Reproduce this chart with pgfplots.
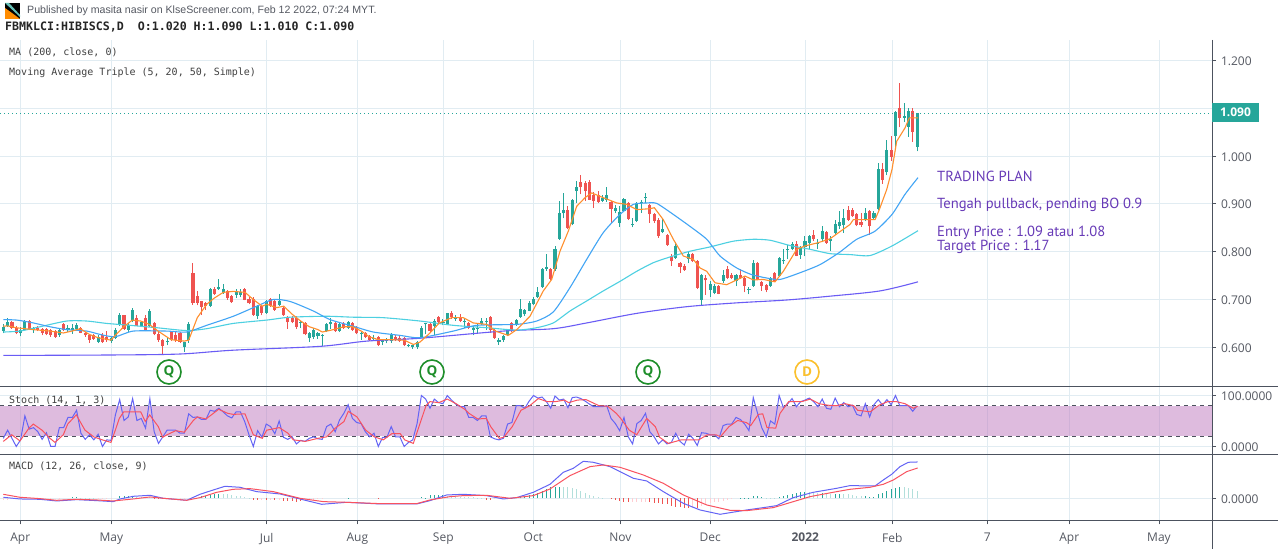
\documentclass[border=0pt]{standalone}
\usepackage{fontspec}
\usepackage{pgfplots}
\usepackage{pgfplotstable}
\pgfplotsset{compat=1.18}
\setmainfont{Open Sans}
\newfontfamily\monof{DejaVu Sans Mono}
\newfontfamily\planf{PT Sans}
\newfontfamily\pubf{Liberation Sans}
\definecolor{upc}{HTML}{26A69A}
\definecolor{dnc}{HTML}{EF5350}
\definecolor{uplt}{HTML}{B2DFDB}
\definecolor{dnlt}{HTML}{FFCDD2}
\definecolor{gridc}{HTML}{E1ECF2}
\definecolor{axc}{HTML}{4C525E}
\definecolor{txtc}{HTML}{555962}
\definecolor{maP}{HTML}{6A5CF5}
\definecolor{maC}{HTML}{4DD0E1}
\definecolor{maB}{HTML}{42A5F5}
\definecolor{maO}{HTML}{FF8F2E}
\definecolor{osB}{HTML}{6464F5}
\definecolor{osR}{HTML}{F9525F}
\definecolor{bandc}{HTML}{BE78BE}
\definecolor{planc}{HTML}{673AB7}
\definecolor{qc}{HTML}{1E8E2A}
\definecolor{dc}{HTML}{FBC02D}
\pgfplotstableread{
i o h l c
1 .634 .648 .629 .643
2 .644 .662 .643 .652
5 .629 .643 .623 .637
6 .636 .657 .636 .655
8 .636 .642 .630 .641
14 .626 .639 .622 .637
16 .637 .647 .632 .641
17 .636 .648 .628 .641
18 .638 .651 .635 .647
23 .612 .625 .609 .621
26 .613 .622 .610 .619
27 .620 .640 .618 .637
28 .649 .671 .645 .667
30 .637 .650 .632 .647
31 .655 .683 .652 .679
33 .645 .655 .642 .652
35 .645 .681 .643 .677
39 .612 .622 .604 .614
43 .600 .612 .590 .611
44 .615 .652 .610 .648
49 .686 .724 .684 .721
51 .722 .742 .720 .726
52 .714 .733 .712 .721
55 .710 .722 .703 .717
56 .710 .721 .705 .715
60 .665 .688 .660 .687
62 .672 .698 .670 .696
65 .689 .712 .687 .696
70 .650 .655 .640 .652
72 .620 .632 .611 .630
73 .622 .640 .618 .637
74 .623 .632 .618 .630
75 .624 .628 .603 .626
76 .634 .650 .632 .648
77 .648 .662 .638 .653
79 .634 .650 .632 .648
81 .641 .656 .639 .653
84 .629 .632 .615 .630
87 .617 .625 .613 .619
89 .611 .618 .604 .616
90 .613 .620 .608 .618
91 .613 .629 .610 .627
95 .602 .606 .600 .605
96 .601 .605 .596 .604
97 .601 .613 .596 .611
98 .620 .645 .620 .641
99 .648 .651 .627 .650
101 .644 .660 .625 .655
103 .652 .660 .646 .653
104 .648 .672 .646 .671
106 .660 .668 .655 .662
108 .654 .661 .640 .656
110 .637 .644 .625 .641
111 .639 .648 .630 .641
112 .649 .662 .647 .656
113 .654 .661 .637 .656
116 .611 .620 .605 .616
117 .615 .625 .612 .623
118 .625 .638 .623 .636
120 .646 .659 .645 .657
121 .664 .702 .662 .681
122 .669 .680 .665 .678
123 .676 .696 .675 .692
124 .690 .705 .688 .702
125 .705 .727 .703 .716
126 .726 .766 .724 .763
127 .764 .796 .760 .768
129 .764 .812 .760 .806
130 .827 .907 .825 .881
131 .880 .922 .870 .887
133 .857 .911 .855 .908
134 .927 .948 .902 .936
140 .907 .918 .904 .913
141 .909 .935 .905 .918
143 .885 .898 .880 .892
144 .861 .895 .852 .883
145 .885 .913 .883 .911
147 .856 .870 .851 .859
148 .865 .904 .862 .902
149 .902 .909 .882 .904
150 .913 .922 .902 .915
154 .841 .870 .839 .848
157 .787 .820 .785 .813
160 .785 .802 .776 .796
163 .700 .754 .686 .752
165 .720 .738 .706 .732
166 .714 .733 .711 .728
168 .739 .762 .735 .752
171 .739 .753 .728 .751
174 .720 .727 .711 .721
175 .729 .783 .727 .777
179 .729 .747 .727 .745
181 .750 .789 .748 .787
182 .780 .805 .775 .782
183 .803 .815 .784 .805
184 .805 .820 .803 .817
186 .794 .812 .785 .810
187 .810 .832 .790 .822
188 .819 .835 .805 .833
190 .817 .826 .806 .818
191 .826 .853 .820 .843
193 .822 .832 .801 .826
194 .840 .867 .835 .857
195 .854 .886 .848 .862
196 .856 .889 .840 .871
201 .866 .892 .864 .881
203 .870 .885 .868 .880
204 .890 .986 .888 .972
206 .966 1.033 .960 1.012
208 1.042 1.095 1.020 1.093
210 1.080 1.111 1.071 1.084
211 1.061 1.101 1.040 1.094
213 1.020 1.090 1.010 1.090
}\upT
\pgfplotstableread{
i o h l c
3 .652 .655 .638 .640
4 .641 .645 .627 .630
7 .655 .657 .636 .638
9 .641 .645 .634 .637
10 .638 .641 .625 .630
11 .638 .641 .625 .627
12 .636 .639 .622 .625
13 .634 .636 .620 .622
15 .648 .650 .634 .636
19 .641 .643 .629 .630
20 .630 .632 .622 .625
21 .626 .628 .610 .616
22 .625 .627 .616 .618
24 .625 .630 .610 .611
25 .621 .635 .612 .615
29 .667 .668 .636 .638
32 .662 .667 .645 .645
34 .662 .667 .634 .635
36 .650 .654 .625 .627
37 .628 .632 .612 .615
38 .615 .617 .585 .602
40 .632 .635 .613 .615
41 .625 .632 .612 .615
42 .629 .632 .609 .611
45 .756 .777 .689 .693
46 .707 .717 .688 .693
47 .696 .697 .668 .685
48 .693 .695 .678 .686
50 .721 .727 .710 .712
53 .717 .720 .700 .703
54 .707 .710 .693 .694
57 .721 .724 .698 .700
58 .702 .706 .690 .692
59 .701 .705 .666 .668
61 .687 .688 .667 .672
63 .701 .703 .685 .687
64 .696 .698 .677 .679
66 .682 .684 .665 .667
67 .664 .666 .639 .652
68 .662 .665 .650 .652
69 .662 .665 .638 .643
71 .651 .653 .625 .627
78 .651 .653 .632 .634
80 .648 .652 .639 .641
82 .651 .653 .635 .637
83 .643 .645 .627 .629
85 .629 .632 .620 .622
86 .623 .625 .613 .615
88 .622 .624 .602 .604
92 .622 .625 .613 .615
93 .620 .623 .611 .613
94 .620 .622 .602 .604
100 .648 .651 .630 .634
102 .663 .666 .651 .653
105 .671 .677 .660 .664
107 .663 .670 .652 .655
109 .651 .653 .639 .641
114 .663 .665 .630 .636
115 .637 .639 .618 .620
119 .650 .652 .632 .634
128 .763 .765 .741 .743
132 .888 .895 .847 .850
135 .946 .961 .920 .935
136 .943 .947 .906 .927
137 .946 .951 .908 .909
138 .918 .925 .891 .906
139 .918 .926 .902 .904
142 .904 .907 .860 .890
146 .902 .904 .866 .869
151 .897 .899 .861 .878
152 .878 .880 .860 .864
153 .867 .870 .829 .833
155 .836 .838 .812 .815
156 .791 .795 .770 .780
158 .777 .779 .755 .769
159 .771 .775 .760 .761
161 .796 .798 .778 .780
162 .780 .782 .722 .725
164 .745 .752 .710 .740
167 .728 .730 .711 .712
169 .763 .770 .742 .745
170 .752 .755 .742 .744
172 .752 .763 .743 .745
173 .745 .748 .715 .729
176 .777 .779 .740 .742
177 .737 .739 .718 .728
178 .731 .733 .715 .719
180 .756 .758 .736 .738
185 .817 .822 .790 .792
189 .836 .845 .822 .826
192 .842 .844 .817 .819
197 .887 .895 .865 .867
198 .887 .891 .873 .875
199 .878 .880 .853 .855
200 .862 .880 .852 .855
202 .885 .887 .835 .853
205 .972 .986 .942 .951
207 1.012 1.043 .990 .999
209 1.101 1.152 1.060 1.080
212 1.094 1.101 1.030 1.050
}\dnT
\pgfplotstableread{
v
16
32
16
0
13
60
34
37
29
14
27
0
0
37
37
57
57
71
26
14
23
13
24
0
13
12
62
92
51
58
94
51
55
36
94
29
6
19
32
32
32
26
26
64
57
58
53
53
71
69
75
68
60
56
68
68
49
23
0
31
18
44
39
25
50
18
14
19
5
12
10
16
19
15
14
39
44
29
52
65
82
55
47
45
29
19
26
0
18
18
39
19
19
0
8
13
45
100
93
75
93
86
84
100
91
83
78
78
57
57
51
60
60
19
15
13
16
44
47
80
80
75
89
100
95
97
88
75
99
91
93
76
96
97
94
89
83
78
78
78
80
55
45
31
57
19
5
45
51
65
29
19
5
13
5
8
26
10
3
24
16
2
27
26
23
23
15
41
44
44
57
53
44
31
96
65
36
19
50
44
100
76
84
94
78
88
91
95
88
78
93
75
73
95
78
86
78
81
63
60
84
58
82
92
81
92
82
100
80
80
80
69
80
}\stochK
\pgfplotstableread{
i v
17 .0015
18 .0015
28 .003
29 .0035
30 .0035
31 .0035
47 .003
48 .004
49 .0055
50 .006
51 .0065
81 .001
98 .0015
99 .001
100 .005
101 .005
102 .005
103 .005
119 .001
120 .002
121 .003
122 .004
123 .005
124 .006
125 .008
126 .011
127 .014
128 .0165
129 .0175
130 .0175
172 .0005
173 .0005
174 .0005
175 .003
176 .003
177 .002
181 .002
182 .003
183 .005
184 .006
185 .008
186 .009
187 .0095
191 .008
194 .007
195 .007
201 .004
202 .002
203 .0025
204 .006
205 .0085
206 .0115
207 .0135
208 .016
209 .0175
}\hUp
\pgfplotstableread{
i v
19 .001
20 .001
21 .001
22 .0005
32 .002
33 .002
34 .002
35 .0015
52 .0065
53 .006
54 .005
55 .004
56 .003
57 .002
58 .001
104 .003
105 .003
106 .003
107 .002
108 .002
109 .002
110 .002
111 .001
112 .001
131 .0165
132 .0165
133 .015
134 .014
135 .011
136 .008
137 .005
138 .003
139 .002
140 .001
178 .001
179 .001
180 .001
188 .009
189 .008
190 .008
192 .007
193 .007
196 .007
197 .007
198 .0055
199 .004
200 .003
210 .0175
211 .016
212 .014
213 .0115
}\hUpL
\pgfplotstableread{
i v
36 -.001
37 -.001
38 -.001
39 -.001
59 -.002
60 -.0025
62 -.0025
64 -.0025
66 -.004
67 -.004
68 -.0045
69 -.005
70 -.004
88 -.001
113 -.002
114 -.002
142 -.001
143 -.002
144 -.004
145 -.005
146 -.006
151 -.006
152 -.007
153 -.0075
154 -.008
155 -.009
156 -.0115
157 -.013
158 -.0135
159 -.014
160 -.0145
162 -.014
}\hDn
\pgfplotstableread{
i v
1 -.002
2 -.002
3 -.0015
4 -.001
5 -.001
6 -.001
8 -.001
10 -.001
12 -.001
14 -.001
23 -.001
24 -.001
25 -.001
26 -.001
40 -.001
41 -.001
42 -.001
43 -.001
61 -.002
63 -.002
65 -.0025
71 -.003
72 -.002
73 -.002
74 -.001
75 -.001
115 -.001
116 -.001
117 -.001
118 -.001
147 -.006
148 -.0055
149 -.0055
150 -.005
161 -.014
163 -.0115
164 -.009
165 -.0075
166 -.006
167 -.005
168 -.0035
169 -.002
170 -.001
}\hDnL
\newcommand{\tickf}{\fontsize{12}{14}\selectfont}
\pgfplotsset{
  pane/.style={scale only axis,width=1212pt,xmin=0,xmax=1212,
    axis line style={draw=none},
    scaled y ticks=false,scaled x ticks=false,
    xtick={20.3,111.3,266.7,357.3,443.3,533.3,620.3,710.3,805.3,892.3,987.3,1069.3,1159},
    grid=major,grid style={gridc,line width=1pt},
    ytick pos=right,yticklabel pos=right,tick align=outside,
    major tick length=4pt,
    tick style={color=axc,line width=1pt},
    yticklabel style={font=\tickf,text=txtc,anchor=west,xshift=1.5pt,yshift=-0.7pt},
    xticklabel style={font=\tickf,text=txtc},
  },
  noxt/.style={xticklabels={},x tick style={draw=none}},
  wick/.style={draw=none,forget plot,error bars/.cd,y dir=plus,y explicit,error mark=none,
    error bar style={draw=#1,solid,line width=1pt}},
  body/.style={draw=none,forget plot,error bars/.cd,y dir=plus,y explicit,error mark=none,
    error bar style={draw=#1,solid,line width=3.1pt}},
  hist/.style={ycomb,#1,line width=1pt,forget plot,no markers},
}
\begin{document}
\begin{tikzpicture}[x=1pt,y=1pt]
\useasboundingbox (0,0) rectangle (1278,549);
\fill[white] (0,0) rectangle (1278,549);
% main pane
\begin{axis}[pane,noxt,at={(0pt,162pt)},anchor=south west,height=347pt,ymin=0.517,ymax=1.2429,
  ytick={0.6,0.7,0.8,0.9,1.0,1.1,1.2},
  yticklabels={0.600,0.700,0.800,0.900,1.000,,1.200}]
\addplot[wick=dnc] table[x expr={3.33+4.31*(\thisrow{i}-1)},y=l,y error expr={\thisrow{h}-\thisrow{l}}] {\dnT};
\addplot[body=dnc] table[x expr={3.33+4.31*(\thisrow{i}-1)},y=c,y error expr={\thisrow{o}-\thisrow{c}}] {\dnT};
\addplot[wick=upc] table[x expr={3.33+4.31*(\thisrow{i}-1)},y=l,y error expr={\thisrow{h}-\thisrow{l}}] {\upT};
\addplot[body=upc] table[x expr={3.33+4.31*(\thisrow{i}-1)},y=o,y error expr={\thisrow{c}-\thisrow{o}}] {\upT};
\addplot[maP,line width=1.1pt,smooth,forget plot] coordinates {(3.3,.583)(113.3,.584)(180,.586)(233.3,.594)(320,.602)(366.7,.613)(420,.619)(503.3,.634)(553.3,.639)(586.7,.651)(636.7,.671)(686.7,.685)(736.7,.693)(786.7,.699)(830,.707)(880,.718)(918,.737)};
\addplot[maC,line width=1.1pt,smooth,tension=.4,forget plot] coordinates {(3.3,.632)(20,.634)(40,.643)(66.7,.655)(86.7,.655)(106.7,.650)(130,.646)(156.7,.641)(186.7,.635)(206.7,.639)(233.3,.650)(266.7,.657)(290,.663)(326.7,.665)(353.3,.663)(383.3,.662)(420,.655)(453.3,.646)(486.7,.641)(516.7,.636)(536.7,.641)(553.3,.651)(570,.676)(586.7,.697)(603.3,.718)(620,.738)(636.7,.759)(653.3,.777)(670,.789)(690,.801)(710,.810)(733.3,.822)(753.3,.826)(770,.824)(790,.813)(810,.805)(830,.796)(850,.794)(870,.792)(892,.812)(918,.844)};
\addplot[maB,line width=1.1pt,smooth,tension=.4,forget plot] coordinates {(3.3,.658)(16.7,.657)(33.3,.651)(50,.643)(66.7,.637)(86.7,.634)(100,.627)(115,.622)(133.3,.634)(166.7,.634)(186.7,.632)(206.7,.646)(233.3,.665)(256.7,.686)(273.3,.700)(290,.696)(313.3,.676)(330,.658)(353.3,.644)(373.3,.632)(400,.625)(420,.620)(453.3,.634)(476.7,.646)(516.7,.648)(536.7,.655)(553.3,.674)(570,.725)(586.7,.784)(603.3,.840)(620,.878)(633.3,.899)(646.7,.902)(656.7,.901)(673.3,.878)(690,.853)(706.7,.826)(720,.791)(736.7,.766)(751.7,.752)(766.7,.745)(780,.742)(800,.756)(820,.773)(839,.798)(856.7,.826)(875,.843)(892,.878)(905,.920)(918,.955)};
\addplot[maO,line width=1.1pt,forget plot] coordinates {(3.3,.644)(7.3,.645)(16,.641)(33.3,.637)(50,.634)(63.3,.630)(72,.634)(80.3,.639)(89.3,.627)(98.3,.620)(111,.615)(115.3,.625)(123.7,.643)(132.3,.657)(140.7,.655)(149.3,.648)(158,.634)(166.7,.622)(171,.616)(184.3,.613)(188.7,.615)(197.3,.662)(206.7,.690)(214.3,.703)(223.3,.715)(233.3,.717)(245,.715)(253.3,.700)(262.3,.686)(266.7,.690)(276.7,.683)(283.7,.686)(292.3,.669)(300.7,.655)(309.3,.643)(318,.637)(322.3,.632)(331.3,.636)(344,.643)(352.7,.643)(361.3,.634)(369.3,.622)(378.3,.616)(391,.616)(404.3,.615)(413.3,.606)(420,.611)(430,.630)(439.3,.651)(451.7,.662)(463.3,.662)(473.3,.651)(486.7,.648)(495.3,.634)(508.3,.625)(516.7,.637)(530,.665)(543.3,.718)(551.7,.742)(560,.801)(568.3,.843)(576.7,.895)(585,.913)(591.7,.923)(603.3,.913)(616.7,.902)(626.7,.899)(636.7,.888)(650,.890)(654.3,.892)(663.3,.867)(673.3,.826)(683.3,.791)(693.3,.784)(700,.766)(706.7,.759)(715,.735)(726.7,.731)(736.7,.741)(745,.749)(753.3,.741)(763.3,.742)(775,.737)(783.3,.759)(796.7,.805)(805,.812)(818.3,.819)(830,.827)(843.3,.847)(850,.857)(853.3,.867)(875,.867)(879.3,.888)(886.7,.930)(892,.972)(896.7,1.031)(905,1.059)(909.3,1.080)(918,1.080)};
\addplot[upc,line width=1pt,dash pattern=on 1.3pt off 2.7pt,forget plot] coordinates {(0,1.09)(1212,1.09)};
\end{axis}
% stochastic pane
\begin{axis}[pane,noxt,at={(0pt,94pt)},anchor=south west,height=68pt,ymin=-16.7,ymax=116.7,
  ytick={0,100},yticklabels={0.0000,100.0000}]
\addplot[draw=none,fill=bandc,fill opacity=.5,forget plot] coordinates {(0,20)(1212,20)(1212,80)(0,80)} --cycle;
\addplot[axc,line width=1pt,dash pattern=on 4pt off 4pt,forget plot] coordinates {(0,80)(1212,80)};
\addplot[axc,line width=1pt,dash pattern=on 4pt off 4pt,forget plot] coordinates {(0,20)(1212,20)};
\addplot[osB,line width=1pt,forget plot] table[x expr={3.33+4.31*\coordindex},y=v] {\stochK};
\addplot[osR,line width=1pt,forget plot] coordinates {(3.3,10)(11.7,23)(20,11)(29,36)(33.3,44)(42,32)(50,16)(55,8)(63.3,23)(67.7,44)(76.3,62)(85,32)(93.7,19)(102.3,13)(111,8)(115.3,32)(119.3,55)(123.7,68)(140.7,68)(145.3,49)(149.7,62)(158.3,39)(162.7,18)(167,23)(175.7,31)(184.3,28)(193.3,51)(197.3,58)(206,54)(218.7,73)(227.7,65)(233.3,63)(245,64)(253.3,23)(262.3,16)(266.7,32)(279.3,37)(288,26)(293.3,13)(305.3,10)(318,16)(326.7,19)(335.3,36)(344,49)(348.3,69)(357,58)(365.7,32)(374.3,19)(383.3,13)(391.7,25)(400.3,25)(404.7,13)(413.3,6)(421.7,55)(426,80)(430,88)(438.7,86)(447.3,93)(456,84)(464.7,73)(469,65)(477.7,54)(486.3,55)(490.7,39)(499.3,16)(503.7,18)(512.3,39)(521,71)(529.7,80)(538.3,94)(547,88)(555.7,88)(564.3,91)(568.7,86)(577.3,91)(586,92)(599,80)(607.7,79)(616.3,65)(620.7,55)(629.3,32)(636.7,23)(646.7,55)(655.3,39)(659.7,18)(668.3,6)(681.3,13)(698.7,13)(707.3,23)(716,23)(720.3,19)(729,39)(737.7,51)(746.3,47)(750.7,41)(758.3,63)(762.7,64)(767,37)(775.7,36)(780,65)(788.7,88)(801.7,88)(810.3,93)(819,84)(827.7,81)(836.3,80)(845,84)(853.7,80)(857.7,71)(870.3,68)(879,81)(887.7,88)(896.3,88)(905,84)(913.3,75)(917.7,79)};
\end{axis}
% MACD pane
\begin{axis}[pane,at={(0pt,28.5pt)},anchor=south west,height=65.5pt,ymin=-0.0333,ymax=0.06495,
  ytick={0},yticklabels={0.0000},
  xtick pos=bottom,
  xticklabels={Apr,May,Jul,Aug,Sep,Oct,Nov,Dec,\textbf{2022},Feb,7,Apr,May},
  xticklabel style={yshift=-5pt}]
\addplot[hist=uplt] table[x expr={3.33+4.31*(\thisrow{i}-1)},y=v] {\hUpL};
\addplot[hist=upc] table[x expr={3.33+4.31*(\thisrow{i}-1)},y=v] {\hUp};
\addplot[hist=dnlt] table[x expr={3.33+4.31*(\thisrow{i}-1)},y=v] {\hDnL};
\addplot[hist=dnc] table[x expr={3.33+4.31*(\thisrow{i}-1)},y=v] {\hDn};
\addplot[osB,line width=1pt,forget plot] coordinates {(3.3,.0015)(20,-.001)(40,-.0015)(56.7,-.004)(76.7,-.002)(96.7,-.0035)(113.3,-.005)(120,-.001)(133.3,.003)(150,.0045)(163.3,0)(186.7,-.003)(200,.006)(213.3,.0125)(225,.018)(240,.0165)(256.7,.01)(280,.0065)(300,-.001)(321.7,-.009)(346.7,-.006)(380,-.0085)(416.7,-.0085)(430,-.0035)(446.7,.005)(463.3,.006)(486.7,.004)(503.3,-.001)(516.7,.001)(533.3,.009)(550,.021)(563.3,.039)(573.3,.045)(583.3,.0555)(593.3,.054)(610,.0475)(633.3,.03)(646.7,.026)(663.3,.01)(683.3,-.0075)(700,-.0175)(720,-.024)(746.7,-.0175)(763.3,-.014)(776.7,-.011)(793.3,.001)(813.3,.009)(836.7,.015)(850,.019)(875,.0185)(883.3,.0275)(891.7,.036)(900,.0475)(908.3,.054)(917.7,.0545)};
\addplot[osR,line width=1pt,forget plot] coordinates {(3.3,.006)(20,.0015)(40,-.0005)(56.7,-.003)(76.7,-.0015)(96.7,-.0025)(113.3,-.004)(133.3,-.001)(150,.002)(163.3,0)(186.7,-.003)(200,.001)(216.7,.009)(233.3,.0135)(250,.0145)(273.3,.01)(300,0)(323.3,-.005)(346.7,-.006)(380,-.008)(416.7,-.008)(430,-.0025)(450,.0025)(463.3,.004)(486.7,.0045)(510,0)(533.3,.004)(550,.014)(570,.034)(590,.0475)(603.3,.05)(620,.0465)(643.3,.035)(663.3,.0225)(683.3,.005)(706.7,-.01)(730,-.018)(746.7,-.0185)(773.3,-.014)(790,-.0065)(810,.0025)(836.7,.01)(850,.0135)(870,.0165)(883.3,.021)(893.3,.0275)(906.7,.04)(917.7,.0455)};
\end{axis}
% pixel-coordinate furniture and annotations
\begin{scope}[x=1pt,y=-1pt,yshift=549pt]
\draw[axc,line width=1pt] (0,387)--(1278,387);
\draw[axc,line width=1pt] (0,455)--(1278,455);
\draw[axc,line width=1pt] (0,520.5)--(1278,520.5);
\draw[axc,line width=1pt] (1212,40)--(1212,549);
\node[fill=upc,text=white,minimum width=47pt,minimum height=19pt,inner sep=0pt,font=\fontsize{12}{14}\selectfont\bfseries] at (1235.5,112.5) {1.090};
% icon
\fill[black] (5,3) rectangle (20,19);
\fill[orange!90!yellow] (5,19)--(5,8)--(12,13)--(20,19)--cycle;
\fill[upc!70] (5,3)--(9,3)--(20,15)--(20,17)--cycle;
\node[anchor=west,inner sep=0pt,text=txtc,font=\pubf\fontsize{10.6}{13}\selectfont] at (27,11) {Published by masita nasir on KlseScreener.com, Feb 12 2022, 07:24 MYT.};
\node[anchor=west,inner sep=0pt,text=black!85,font=\monof\fontsize{11.6}{13}\selectfont\bfseries] at (5,27.5) {FBMKLCI:HIBISCS,D\ \ O:1.020 H:1.090 L:1.010 C:1.090};
\node[anchor=west,inner sep=0pt,text=black!75,font=\monof\fontsize{10}{12}\selectfont] at (9,52.5) {MA (200, close, 0)};
\node[anchor=west,inner sep=0pt,text=black!75,font=\monof\fontsize{10}{12}\selectfont] at (9,72.5) {Moving Average Triple (5, 20, 50, Simple)};
\node[anchor=west,inner sep=0pt,text=black!75,font=\monof\fontsize{10}{12}\selectfont] at (9,400) {Stoch (14, 1, 3)};
\node[anchor=west,inner sep=0pt,text=black!75,font=\monof\fontsize{10}{12}\selectfont] at (9,466) {MACD (12, 26, close, 9)};
\foreach \px/\ly in {169/372,432/372,648/372}{
  \node[circle,draw=qc,line width=1.6pt,minimum size=24pt,inner sep=0pt,text=qc,font=\fontsize{13.5}{14}\selectfont\bfseries] at (\px,\ly) {Q};
}
\node[circle,draw=dc,line width=1.6pt,minimum size=24pt,inner sep=0pt,text=dc,font=\fontsize{13.5}{14}\selectfont\bfseries] at (807,372) {D};
\foreach \ly/\t in {176.5/TRADING PLAN,204.5/{Tengah pullback, pending BO 0.9},232.5/{Entry Price : 1.09 atau 1.08},246.5/{Target Price : 1.17}}{
  \node[anchor=west,inner sep=0pt,text=planc,font=\planf\fontsize{14.6}{15}\selectfont] at (937,\ly) {\t};
}
\end{scope}
\end{tikzpicture}
\end{document}
